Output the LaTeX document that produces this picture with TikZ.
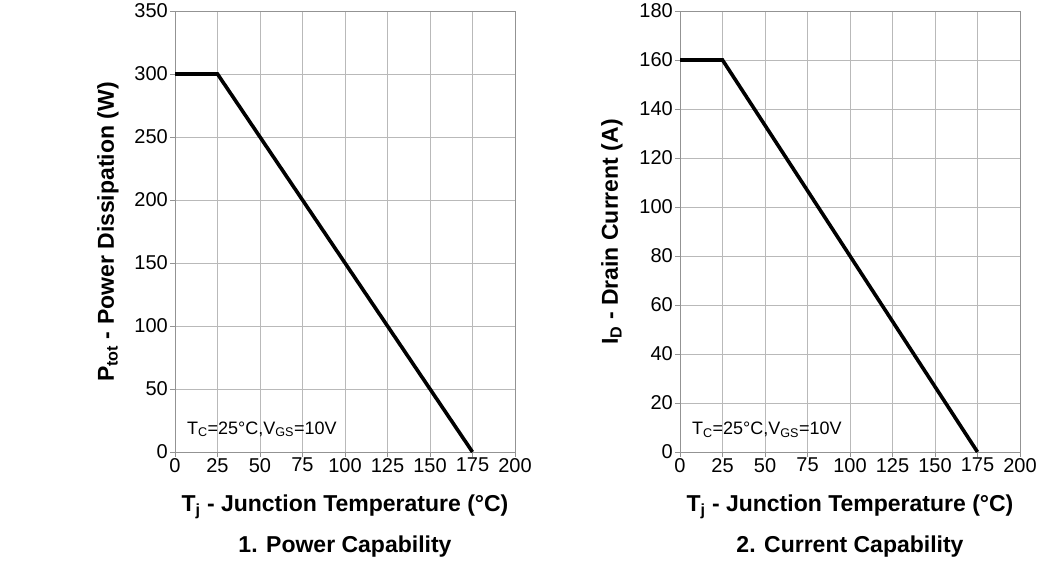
\documentclass[tikz,border=0pt]{standalone}
\usepackage{fontspec}
\setmainfont{Liberation Sans}

\tikzset{
  gridline/.style={gray!55, line width=0.6pt},
  frameline/.style={gray!85, line width=0.9pt},
  tickline/.style={gray!85, line width=0.9pt},
  curve/.style={black, line width=3.6pt},
  xtick/.style={anchor=north, yshift=-5pt, inner sep=1pt, font=\fontsize{20}{20}\selectfont},
  ytick/.style={anchor=east, xshift=-6pt, inner sep=1pt, font=\fontsize{20}{20}\selectfont},
  legendtext/.style={anchor=west, inner sep=0pt, font=\fontsize{18}{18}\selectfont},
  axistitle/.style={inner sep=0pt, font=\bfseries\fontsize{23}{23}\selectfont},
}

\begin{document}
\begin{tikzpicture}[x=1pt,y=1pt]
    \useasboundingbox (0,0) rectangle (1050,570);

    % 1. Power Capability
    \begin{scope}[shift={(175,118)}, x=1.7pt, y=1.26pt]
        \draw[gridline, xstep=25, ystep=50] (0,0) grid (200,350);
        \draw[frameline] (0,0) rectangle (200,350);
        \foreach \t in {0,25,...,200} \draw[tickline] (\t,0) -- ++(0,-5pt);
        \foreach \v in {0,50,...,350} \draw[tickline] (0,\v) -- ++(-5pt,0);

        \node[xtick] (powx0) at (0,0) {0};
        \node[xtick] (powx25) at (25,0) {25};
        \node[xtick] (powx50) at (50,0) {50};
        \node[xtick] (powx75) at (75,0) {75};
        \node[xtick] (powx100) at (100,0) {100};
        \node[xtick] (powx125) at (125,0) {125};
        \node[xtick] (powx150) at (150,0) {150};
        \node[xtick] (powx175) at (175,0) {175};
        \node[xtick] (powx200) at (200,0) {200};

        \node[ytick] (powy0) at (0,0) {0};
        \node[ytick] (powy50) at (0,50) {50};
        \node[ytick] (powy100) at (0,100) {100};
        \node[ytick] (powy150) at (0,150) {150};
        \node[ytick] (powy200) at (0,200) {200};
        \node[ytick] (powy250) at (0,250) {250};
        \node[ytick] (powy300) at (0,300) {300};
        \node[ytick] (powy350) at (0,350) {350};

        \draw[curve] (0,300) -- (25,300) -- (175,0);
        \node[legendtext] (powlegend) at (7,18) {T\textsubscript{C}=25°C,V\textsubscript{GS}=10V};
    \end{scope}

    % 2. Current Capability
    \begin{scope}[shift={(680,118)}, x=1.7pt, y=2.45pt]
        \draw[gridline, xstep=25, ystep=20] (0,0) grid (200,180);
        \draw[frameline] (0,0) rectangle (200,180);
        \foreach \t in {0,25,...,200} \draw[tickline] (\t,0) -- ++(0,-5pt);
        \foreach \v in {0,20,...,180} \draw[tickline] (0,\v) -- ++(-5pt,0);

        \node[xtick] (curx0) at (0,0) {0};
        \node[xtick] (curx25) at (25,0) {25};
        \node[xtick] (curx50) at (50,0) {50};
        \node[xtick] (curx75) at (75,0) {75};
        \node[xtick] (curx100) at (100,0) {100};
        \node[xtick] (curx125) at (125,0) {125};
        \node[xtick] (curx150) at (150,0) {150};
        \node[xtick] (curx175) at (175,0) {175};
        \node[xtick] (curx200) at (200,0) {200};

        \node[ytick] (cury0) at (0,0) {0};
        \node[ytick] (cury20) at (0,20) {20};
        \node[ytick] (cury40) at (0,40) {40};
        \node[ytick] (cury60) at (0,60) {60};
        \node[ytick] (cury80) at (0,80) {80};
        \node[ytick] (cury100) at (0,100) {100};
        \node[ytick] (cury120) at (0,120) {120};
        \node[ytick] (cury140) at (0,140) {140};
        \node[ytick] (cury160) at (0,160) {160};
        \node[ytick] (cury180) at (0,180) {180};

        \draw[curve] (0,160) -- (25,160) -- (175,0);
        \node[legendtext] (curlegend) at (7,9.2) {T\textsubscript{C}=25°C,V\textsubscript{GS}=10V};
    \end{scope}

    % axis titles
    \node[axistitle, rotate=90] (powylabel) at (108,338) {P\textsubscript{tot} - Power Dissipation (W)};
    \node[axistitle, rotate=90] (curylabel) at (612,338) {I\textsubscript{D} - Drain Current (A)};
    \node[axistitle] (powxlabel) at (345,63) {T\textsubscript{j} - Junction Temperature (°C)};
    \node[axistitle] (curxlabel) at (850,63) {T\textsubscript{j} - Junction Temperature (°C)};

    % captions
    \node[axistitle] (powcaption) at (345,23) {1. Power Capability};
    \node[axistitle] (curcaption) at (850,23) {2. Current Capability};
\end{tikzpicture}
\end{document}
